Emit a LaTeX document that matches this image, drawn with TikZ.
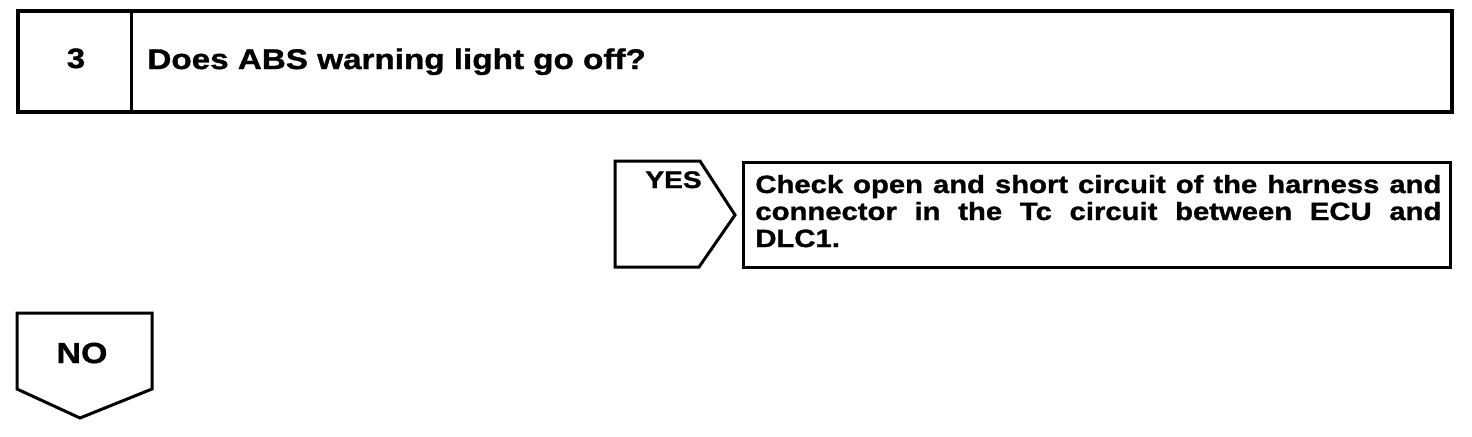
\documentclass[tikz,border=0pt]{standalone}
\usepackage{fontspec}
\setmainfont{Liberation Sans}[FakeStretch=1.17, BoldFeatures={FakeBold=1.2}]
\begin{document}
\begin{tikzpicture}[x=0.5pt,y=-0.5pt,
  frame/.style={line width=1.8pt, line join=miter},
  thin frame/.style={line width=1.5pt, line join=miter},
  lbl/.style={inner sep=0pt, font=\bfseries}]
\useasboundingbox (0,0) rectangle (1472,436);
% step header box
\draw[frame] (18,11) rectangle (1452,112);
\draw[thin frame] (131,11) -- (131,112);
\node[lbl, anchor=base, font=\bfseries\fontsize{14pt}{16pt}\selectfont] (num) at (76,68) {3};
\node[lbl, anchor=base west, font=\bfseries\fontsize{14.2pt}{16pt}\selectfont] (question) at (147,69) {Does ABS warning light go off?};
% YES arrow
\draw[thin frame] (615,161) -- (700,161) -- (735,215) -- (699,267) -- (615,267) -- cycle;
\node[lbl, anchor=base east, font=\bfseries\fontsize{12pt}{14pt}\selectfont] (yes) at (702,188) {YES};
% result box
\draw[thin frame] (743,162) rectangle (1450,267);
\node[lbl, anchor=base west] (result) at (755,193) {\parbox[t]{343pt}{\fontsize{12.5pt}{13.5pt}\selectfont\bfseries\hyphenpenalty=10000
Check open and short circuit of the harness and\linebreak connector in the Tc circuit between ECU and\linebreak DLC1.}};
% NO arrow
\draw[thin frame] (17,313) -- (152,313) -- (152,389) -- (80,418) -- (17,389) -- cycle;
\node[lbl, anchor=base, font=\bfseries\fontsize{14.5pt}{16pt}\selectfont] (no) at (82,363) {NO};
\end{tikzpicture}
\end{document}
